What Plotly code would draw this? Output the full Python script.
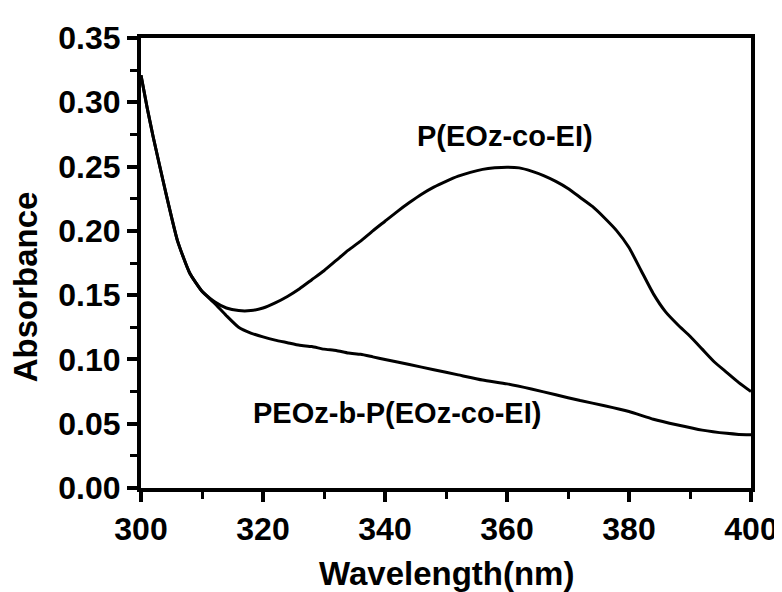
import plotly.graph_objects as go

# P(EOz-co-EI)
wl_p = [300, 301, 302, 304, 306, 308, 310, 312, 314, 316, 318, 320, 322, 324, 326, 328,
        330, 332, 334, 336, 338, 340, 342, 344, 346, 348, 350, 352, 354, 356, 358, 360,
        362, 364, 366, 368, 370, 372, 374, 376, 378, 380, 382, 384, 386, 388, 390, 392,
        394, 396, 398, 400]
abs_p = [0.321, 0.296, 0.273, 0.231, 0.192, 0.167, 0.153, 0.145, 0.140, 0.138, 0.138, 0.140,
         0.144, 0.149, 0.155, 0.162, 0.169, 0.177, 0.185, 0.192, 0.200, 0.2075, 0.215, 0.222,
         0.2285, 0.234, 0.2385, 0.2425, 0.2455, 0.2478, 0.249, 0.2495, 0.249, 0.2465, 0.243, 0.2385,
         0.233, 0.226, 0.219, 0.210, 0.200, 0.187, 0.169, 0.151, 0.137, 0.127, 0.118, 0.108,
         0.098, 0.090, 0.082, 0.075]

# PEOz-b-P(EOz-co-EI)
wl_b = [300, 301, 302, 304, 306, 308, 310, 312, 314, 316, 318, 320, 322, 324, 326, 328,
        330, 332, 334, 336, 338, 340, 344, 348, 352, 356, 360, 364, 368, 372, 376, 380,
        384, 388, 392, 396, 398, 400]
abs_b = [0.321, 0.296, 0.273, 0.231, 0.192, 0.167, 0.153, 0.144, 0.134, 0.125, 0.1205, 0.1175,
         0.115, 0.113, 0.111, 0.110, 0.108, 0.107, 0.105, 0.104, 0.102, 0.100, 0.096, 0.092,
         0.088, 0.084, 0.081, 0.077, 0.0725, 0.068, 0.064, 0.0595, 0.0535, 0.049, 0.045, 0.0425,
         0.0417, 0.0415]

label_p = "P(EOz-co-EI)"
label_b = "PEOz-b-P(EOz-co-EI)"
x_title = "Wavelength(nm)"
y_title = "Absorbance"

FONT = "Arial, Liberation Sans, sans-serif"

fig = go.Figure()
fig.add_trace(go.Scatter(x=wl_p, y=abs_p, mode="lines",
                         line=dict(color="black", width=3, shape="spline", smoothing=0.5),
                         showlegend=False))
fig.add_trace(go.Scatter(x=wl_b, y=abs_b, mode="lines",
                         line=dict(color="black", width=3, shape="spline", smoothing=0.5),
                         showlegend=False))

fig.add_annotation(x=359.7, y=0.2736, text=label_p, showarrow=False,
                   font=dict(family=FONT, size=29, color="black", weight="bold"))
fig.add_annotation(x=341.9, y=0.0583, text=label_b, showarrow=False,
                   font=dict(family=FONT, size=29, color="black", weight="bold"))

# axis titles
fig.add_annotation(xref="paper", yref="paper", x=0.5, y=-0.191, text=x_title, showarrow=False,
                   xanchor="center", yanchor="middle",
                   font=dict(family=FONT, size=33, color="black", weight="bold"))
fig.add_annotation(xref="paper", yref="paper", x=-0.1895, y=0.447, text=y_title, showarrow=False,
                   textangle=-90, xanchor="center", yanchor="middle",
                   font=dict(family=FONT, size=33, color="black", weight="bold"))

axis_common = dict(showgrid=False, zeroline=False, showline=True, linecolor="black", linewidth=4,
                   mirror=True, ticks="outside", ticklen=10, tickwidth=4, tickcolor="black",
                   tickfont=dict(family=FONT, size=32, color="black", weight="bold"))

fig.update_xaxes(range=[300, 400], dtick=20, tick0=300,
                 minor=dict(ticks="outside", dtick=10, ticklen=7, tickwidth=3, tickcolor="black"),
                 **axis_common)
fig.update_yaxes(range=[0, 0.35], dtick=0.05, tick0=0, tickformat=".2f",
                 minor=dict(ticks="outside", dtick=0.025, ticklen=7, tickwidth=3, tickcolor="black"),
                 **axis_common)

fig.update_layout(width=782, height=592, margin=dict(l=133, r=37, t=24, b=112),
                  paper_bgcolor="white", plot_bgcolor="white")

fig.write_html("out.html")
